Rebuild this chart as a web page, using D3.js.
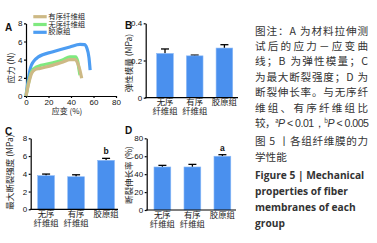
<!DOCTYPE html>
<html>
<head>
<meta charset="utf-8">
<script src="https://cdn.jsdelivr.net/npm/d3@7"></script>
<style>
  body { margin: 0; background: #fff; }
  svg { display: block; }
</style>
</head>
<body>
<svg id="fig" width="377" height="243"></svg>
<script>
// stress-strain curves (strain %, stress N)
const orderedCurve = [[0,0],[2,1.2],[5,2.5],[8,2.9],[12.4,3.04],[24,3.4],[33,3.75],[39,4.0],[43.5,4.0],[46,3.6],[48,2.8],[49.5,1.95]];
const disorderCurve = [[0,0],[2,1.3],[5,2.67],[9.5,3.2],[24,3.66],[33,4.0],[39,4.3],[44,4.3],[46,3.8],[47,3.0],[48,2.3]];
const collagenCurve = [[0,0],[2,1.8],[4,3.1],[6.5,3.77],[11,4.3],[24,4.87],[39,5.4],[48,5.67],[52,5.66],[54,5.3],[56,4.2],[57,2.85]];
const legendNames = ["有序纤维组", "无序纤维组", "胶原组"];

const groups = ["无序\n纤维组", "有序\n纤维组", "胶原组"];
const modulus = [0.238, 0.225, 0.267];
const modulusErr = [0.024, 0.004, 0.018];
const strength = [3.79, 3.67, 5.52];
const strengthErr = [0.18, 0.22, 0.22];
const elongation = [48, 48, 60];
const elongationErr = [1.8, 2.9, 1.7];
const strengthMarks = ["", "", "b"];
const elongationMarks = ["", "", "a"];

const captionCn = [
  "图注：A 为材料拉伸测",
  "试后的应力－应变曲",
  "线；B 为弹性模量；C",
  "为最大断裂强度；D 为",
  "断裂伸长率。与无序纤",
  "维组、有序纤维组比"
];
const captionTitle = ["图 5 丨各组纤维膜的力", "学性能"];
const captionEn = ["Figure 5  |  Mechanical", "properties of fiber", "membranes of each", "group"];

const svg = d3.select("#fig");
const tickFont = "Liberation Sans, Arial, sans-serif";
const cjkFont = "Noto Sans CJK SC, sans-serif";
const barColor = "#4a90ee";

function panelLetter(x, y, t) {
  svg.append("text").attr("x", x).attr("y", y).text(t)
    .attr("font-family", tickFont).attr("font-weight", "bold").attr("font-size", 10).attr("fill", "#111");
}

function yLabel(x, y, t) {
  svg.append("text").attr("transform", `translate(${x},${y}) rotate(-90)`)
    .attr("text-anchor", "middle").attr("dominant-baseline", "middle")
    .attr("font-family", cjkFont).attr("font-size", 8.5).attr("fill", "#222").text(t);
}

function styleAxis(g) {
  g.selectAll("path, line").attr("stroke", "#000").attr("stroke-width", 1.2);
  g.selectAll("text").attr("font-family", tickFont).attr("font-size", 8).attr("fill", "#111");
}

// ---- panel A : stress-strain ----
const ax = d3.scaleLinear().domain([0, 80]).range([26, 116]);
const ay = d3.scaleLinear().domain([0, 8]).range([96, 23.3]);

svg.append("g").attr("transform", "translate(0,96)")
  .call(d3.axisBottom(ax).tickValues([0, 20, 40, 60, 80]).tickSize(2).tickSizeOuter(0).tickPadding(1))
  .call(styleAxis);
svg.append("g").attr("transform", "translate(26,0)")
  .call(d3.axisLeft(ay).tickValues([0, 2, 4, 6, 8]).tickSize(2).tickSizeOuter(0).tickPadding(1.5))
  .call(styleAxis);

const line = d3.line().x(d => ax(d[0])).y(d => ay(d[1])).curve(d3.curveMonotoneX);
const curves = [
  { data: orderedCurve, color: "#cdb985" },
  { data: disorderCurve, color: "#7fe97f" },
  { data: collagenCurve, color: "#4d9df2" }
];
// collagen first, then disorder, ordered on top
[curves[2], curves[1], curves[0]].forEach(c => {
  svg.append("path").datum(c.data).attr("d", line)
    .attr("fill", "none").attr("stroke", c.color).attr("stroke-width", 3.2)
    .attr("stroke-linejoin", "round").attr("stroke-linecap", "butt");
});

legendNames.forEach((n, i) => {
  const y = 16.7 + i * 7.8;
  svg.append("line").attr("x1", 33.3).attr("x2", 46.7).attr("y1", y).attr("y2", y)
    .attr("stroke", curves[i].color).attr("stroke-width", 3.2);
  svg.append("text").attr("x", 48.3).attr("y", y).attr("dominant-baseline", "middle")
    .attr("font-family", cjkFont).attr("font-size", 7.4).attr("fill", "#222").text(n);
});

panelLetter(5, 31, "A");
yLabel(12, 68, "应力 (N)");
svg.append("text").attr("x", 67).attr("y", 111.5).attr("text-anchor", "middle")
  .attr("dominant-baseline", "middle").attr("font-family", cjkFont).attr("font-size", 8)
  .attr("fill", "#222").text("应变 (%)");

// ---- bar panels ----
function barPanel(opt) {
  const x = d3.scaleBand().domain(groups)
    .range([opt.x0, opt.x0 + opt.step * (3 - 0.44 + 2 * opt.po)])
    .paddingInner(0.44).paddingOuter(opt.po);
  const y = d3.scaleLinear().domain([0, opt.max]).range([opt.y0, opt.yTop]);

  svg.append("g").attr("transform", `translate(${opt.x0},0)`)
    .call(d3.axisLeft(y).tickValues(opt.ticks).tickFormat(opt.fmt).tickSize(2).tickSizeOuter(0).tickPadding(1.5))
    .call(styleAxis);

  // error bars (upper whisker only visible)
  groups.forEach((gname, i) => {
    const cx = x(gname) + x.bandwidth() / 2;
    const top = y(opt.values[i] + opt.errs[i]);
    svg.append("line").attr("x1", cx).attr("x2", cx).attr("y1", y(opt.values[i])).attr("y2", top)
      .attr("stroke", "#000").attr("stroke-width", 1.3);
    svg.append("line").attr("x1", cx - 4).attr("x2", cx + 4).attr("y1", top).attr("y2", top)
      .attr("stroke", "#000").attr("stroke-width", 1.3);
  });

  svg.append("g").selectAll("rect").data(opt.values).join("rect")
    .attr("x", (d, i) => x(groups[i]))
    .attr("y", d => y(d))
    .attr("width", x.bandwidth())
    .attr("height", d => opt.y0 - y(d))
    .attr("fill", barColor)
    .attr("stroke", "#8dbaf7").attr("stroke-width", 0.6);

  if (opt.marks) {
    opt.marks.forEach((m, i) => {
      if (!m) return;
      svg.append("text").attr("x", x(groups[i]) + x.bandwidth() / 2)
        .attr("y", y(opt.values[i] + opt.errs[i]) - 4)
        .attr("text-anchor", "middle").attr("font-family", tickFont).attr("font-weight", "bold")
        .attr("font-size", 8.5).attr("fill", "#111").text(m);
    });
  }

  // x axis line
  svg.append("line").attr("x1", opt.x0 - 0.6).attr("x2", opt.xEnd).attr("y1", opt.y0).attr("y2", opt.y0)
    .attr("stroke", "#000").attr("stroke-width", 1.2);

  // category labels (two lines)
  groups.forEach(gname => {
    const t = svg.append("text").attr("x", x(gname) + x.bandwidth() / 2).attr("y", opt.y0 + 7.5)
      .attr("text-anchor", "middle").attr("font-family", cjkFont).attr("font-size", 8.4).attr("fill", "#222");
    gname.split("\n").forEach((part, k) => {
      t.append("tspan").attr("x", x(gname) + x.bandwidth() / 2).attr("dy", k === 0 ? 0 : 9).text(part);
    });
  });
}

barPanel({ x0: 145.7, xEnd: 238, y0: 97.7, yTop: 23.3, step: 29.7, po: 0.37, max: 0.4,
  ticks: [0, 0.2, 0.4], fmt: d => d === 0 ? "0" : d.toFixed(1), values: modulus, errs: modulusErr });
barPanel({ x0: 30.7, xEnd: 118, y0: 209.3, yTop: 138.3, step: 30, po: 0.233, max: 8,
  ticks: [0, 2, 4, 6, 8], fmt: d3.format("d"), values: strength, errs: strengthErr, marks: strengthMarks });
barPanel({ x0: 146.7, xEnd: 236, y0: 210, yTop: 138.3, step: 30, po: 0.243, max: 80,
  ticks: [0, 20, 40, 60, 80], fmt: d3.format("d"), values: elongation, errs: elongationErr, marks: elongationMarks });

panelLetter(125, 29, "B");
panelLetter(5, 135, "C");
panelLetter(125, 134, "D");
yLabel(130, 63, "弹性模量 (MPa)");
yLabel(11, 172, "最大断裂强度 (MPa)");
yLabel(130, 175, "断裂伸长率 (%)");

// ---- caption ----
const capX = 255, capW = 113;
captionCn.forEach((s, i) => {
  svg.append("text").attr("x", capX).attr("y", 31.7 + i * 15.4).attr("dominant-baseline", "middle")
    .attr("font-family", cjkFont).attr("font-size", 10.6).attr("fill", "#333")
    .attr("textLength", capW).attr("lengthAdjust", "spacing").text(s);
});
const pLine = svg.append("text").attr("x", capX).attr("y", 31.7 + 6 * 15.4).attr("dominant-baseline", "middle")
  .attr("font-family", cjkFont).attr("font-size", 10.6).attr("fill", "#333")
  .attr("textLength", capW + 1).attr("lengthAdjust", "spacing");
pLine.append("tspan").text("较，");
pLine.append("tspan").attr("font-size", 6).attr("dy", -3).text("a");
pLine.append("tspan").attr("dy", 3).attr("font-family", tickFont).attr("font-style", "italic").text("P");
pLine.append("tspan").attr("font-family", tickFont).text(" < 0.01，");
pLine.append("tspan").attr("font-size", 6).attr("dy", -3).text("b");
pLine.append("tspan").attr("dy", 3).attr("font-family", tickFont).attr("font-style", "italic").text("P");
pLine.append("tspan").attr("font-family", tickFont).text(" < 0.005");

captionTitle.forEach((s, i) => {
  const t = svg.append("text").attr("x", capX).attr("y", 142.5 + i * 15.4).attr("dominant-baseline", "middle")
    .attr("font-family", cjkFont).attr("font-size", 10.6).attr("fill", "#333").text(s);
  if (i === 0) t.attr("textLength", capW).attr("lengthAdjust", "spacing");
});
captionEn.forEach((s, i) => {
  svg.append("text").attr("x", capX).attr("y", 176.5 + i * 16).attr("dominant-baseline", "middle")
    .attr("font-family", "Open Sans, sans-serif").attr("font-weight", "bold").attr("font-size", 10.2)
    .attr("fill", "#333").text(s);
});
</script>
</body>
</html>
